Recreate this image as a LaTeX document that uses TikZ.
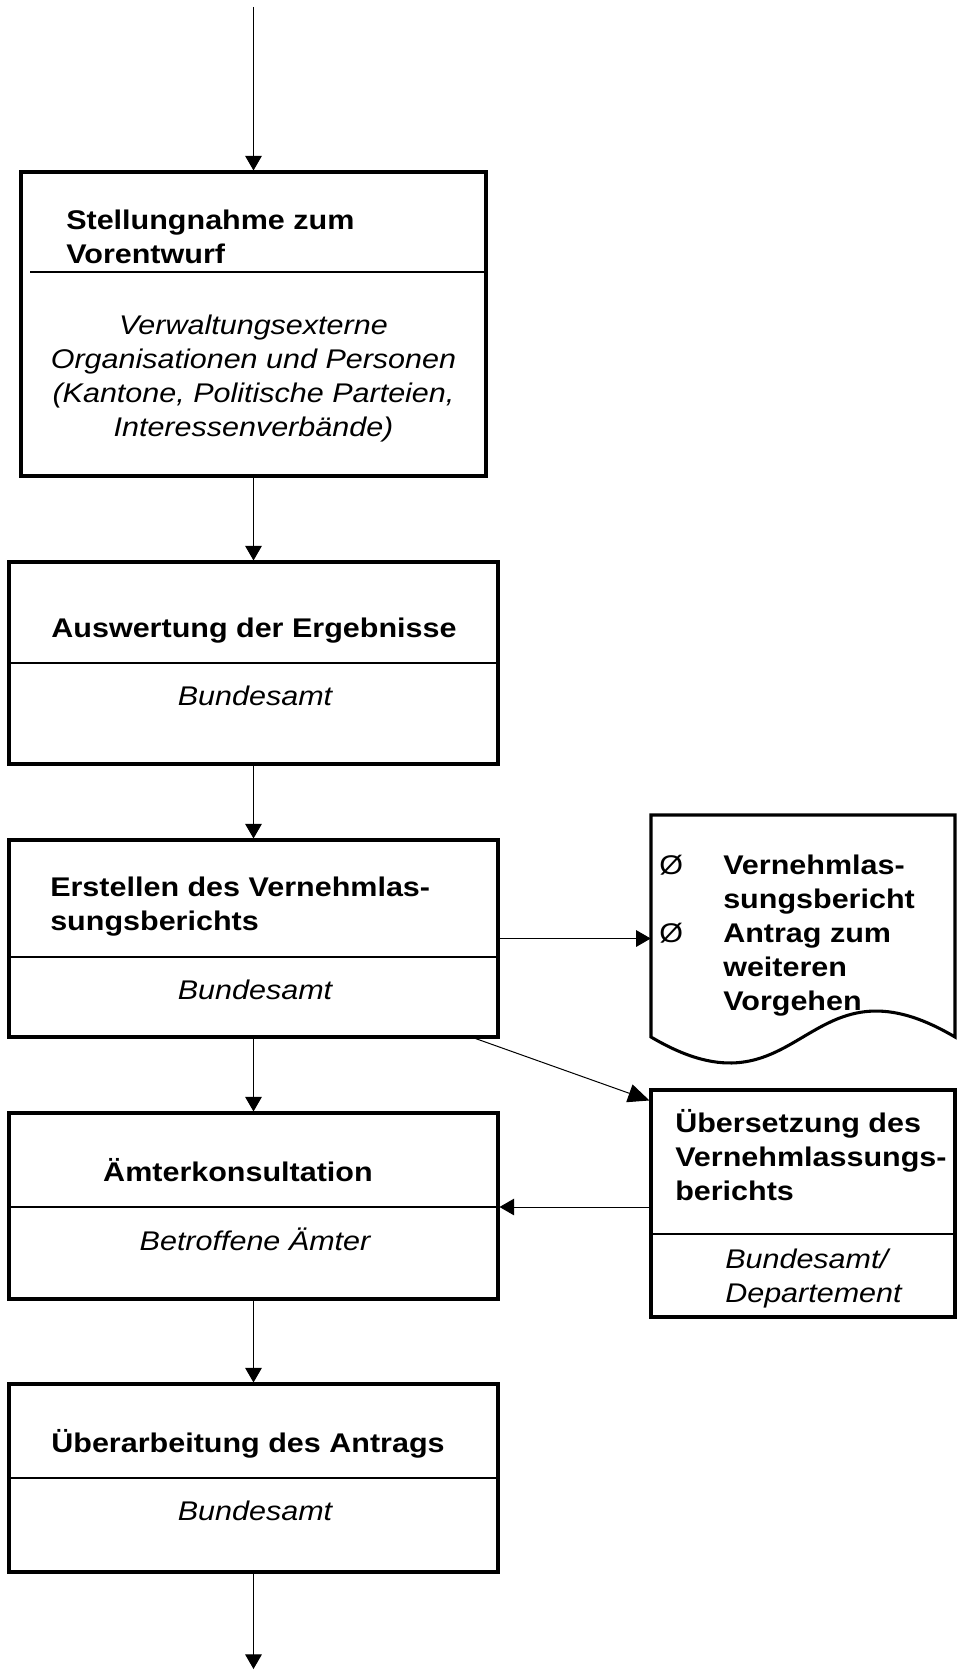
\documentclass[tikz,border=0pt]{standalone}
\usepackage{fontspec}
\setmainfont{Liberation Sans}[FakeStretch=1.13]
\usetikzlibrary{arrows.meta,calc,fit}
\newcommand\boxfont{\fontsize{20.25pt}{25.5pt}\selectfont}
\begin{document}
\begin{tikzpicture}[x=0.75pt,y=-0.75pt,
  every node/.style={inner sep=0pt},
  stepbox/.style={draw, line width=2.3pt, fit={#1}},
  ghost/.style={draw=none, fit={#1}},
  divider/.style={line width=0.8pt},
  conn/.style={line width=0.75pt, -{Triangle[width=12.5pt,length=11pt]}},
  bigtip/.style={-{Triangle[width=14pt,length=16pt]}},
  ttl/.style={font=\boxfont\bfseries, anchor=base west, align=left},
  ttlc/.style={font=\boxfont\bfseries, anchor=base, align=center},
  who/.style={font=\boxfont\itshape, anchor=base, align=center},
  whol/.style={font=\boxfont\itshape, anchor=base west, align=left},
  bul/.style={font=\boxfont, anchor=base west}]
\useasboundingbox (0,0) rectangle (957,1670);

% process boxes
\node[stepbox={(21,172)(486,476)}] (b1) {};
\node[stepbox={(9,562)(498,764)}] (b2) {};
\node[stepbox={(9,840)(498,1037)}] (b3) {};
\node[stepbox={(9,1113)(498,1299)}] (b4) {};
\node[stepbox={(9,1384)(498,1572)}] (b5) {};
\node[stepbox={(651,1090)(955,1317)}] (ub) {};

% document shape with wavy lower edge
\node[ghost={(651,815)(955,1037)}] (doc) {};
\draw[line width=2.3pt, line join=miter]
  (651,1037) -- (651,815) -- (955,815) -- (955,1037)
  .. controls (803,947) and (803,1127) .. (651,1037) -- cycle;

% dividers between task and responsible party
\draw[divider] (30,272) -- (b1.east |- 0,272);
\draw[divider] (b2.west |- 0,663) -- (b2.east |- 0,663);
\draw[divider] (b3.west |- 0,957) -- (b3.east |- 0,957);
\draw[divider] (b4.west |- 0,1207) -- (b4.east |- 0,1207);
\draw[divider] (b5.west |- 0,1478) -- (b5.east |- 0,1478);
\draw[divider] (ub.west |- 0,1234) -- (ub.east |- 0,1234);

% texts (multi-line nodes are placed by the baseline of their last line)
\node[ttl] (t1) at (66,263) {Stellungnahme zum\\Vorentwurf};
\node[who] (w1) at (253.5,436) {Verwaltungsexterne\\Organisationen und Personen\\(Kantone, Politische Parteien,\\Interessenverbände)};

\node[ttlc] (t2) at (254,637) {Auswertung der Ergebnisse};
\node[who] (w2) at (255,705) {Bundesamt};

\node[ttl] (t3) at (50,930) {Erstellen des Vernehmlas-\\sungsberichts};
\node[who] (w3) at (255,999) {Bundesamt};

\node[ttlc] (t4) at (238,1181) {Ämterkonsultation};
\node[who] (w4) at (255,1250) {Betroffene Ämter};

\node[ttlc] (t5) at (248,1452) {Überarbeitung des Antrags};
\node[who] (w5) at (255,1520) {Bundesamt};

\node[bul] (d1) at (659,874) {Ø};
\node[bul] (d2) at (659,942) {Ø};
\node[ttl] (dt) at (723,1010) {Vernehmlas-\\sungsbericht\\Antrag zum\\weiteren\\Vorgehen};

\node[ttl] (ut) at (675,1200) {Übersetzung des\\Vernehmlassungs-\\berichts};
\node[whol] (uw) at (725,1302) {Bundesamt/\\Departement};

% connectors
\coordinate (in) at (253.5,7);
\coordinate (out) at (253.5,1669);
\coordinate (j4) at (498,1207);
\draw[conn] (in) -- (b1.north);
\draw[conn] (b1.south) -- (b2.north);
\draw[conn] (b2.south) -- (b3.north);
\draw[conn] (b3.south) -- (b4.north);
\draw[conn] (b4.south) -- (b5.north);
\draw[conn] (b5.south) -- (out);
\draw[conn] (b3.east) -- (b3.east -| doc.west);
\draw[conn, bigtip] ($(b3.south east)+(-24,0)$) -- ($(ub.north west)+(0,12)$);
\draw[conn] (ub.west |- j4) -- (b4.east |- j4);
\end{tikzpicture}
\end{document}
